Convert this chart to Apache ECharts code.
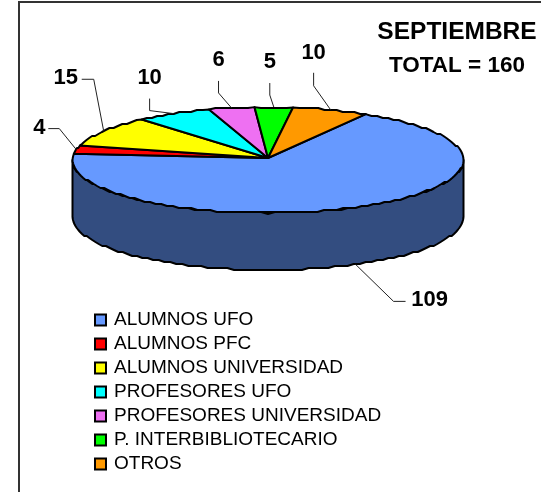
<!DOCTYPE html>
<html>
<head>
<meta charset="utf-8">
<style>
  html, body { margin: 0; padding: 0; background: #fff; }
  #chart { width: 541px; height: 492px; }
</style>
<script src="https://cdn.jsdelivr.net/npm/echarts@6/dist/echarts.min.js"></script>
</head>
<body>
<div id="chart"></div>
<script>
const categories = ['ALUMNOS UFO', 'ALUMNOS PFC', 'ALUMNOS UNIVERSIDAD', 'PROFESORES UFO', 'PROFESORES UNIVERSIDAD', 'P. INTERBIBLIOTECARIO', 'OTROS'];
const values = [109, 4, 15, 10, 6, 5, 10];
const colors = ['#6699FF', '#FF0000', '#FFFF00', '#00FFFF', '#EE70F2', '#00FF00', '#FF9900'];
const titleLines = ['SEPTIEMBRE', 'TOTAL = 160'];

// leader line per slice: elbow, end of line, label centre (offsets from the slice edge)
const leaders = [
  [[38, 37], [50, 37], [74, 36]],
  [[-17, -21], [-28, -21], [-37, -22]],
  [[-10, -52], [-22, -52], [-38, -53]],
  [[-24, -3], [-24, -15], [-24, -36]],
  [[-13, -15], [-13, -27], [-13, -48]],
  [[-4, -12], [-4, -24], [-4, -45]],
  [[-17, -24], [-17, -37], [-17, -57]],
];

const cx = 268, cy = 160, rx = 195.5, ry = 53, depth = 57;
const apex = [268, 158];
const startAngle = 30;
const total = values.reduce((a, b) => a + b, 0);
const FONT = '"Liberation Sans", Arial, sans-serif';

const rad = (d) => (d * Math.PI) / 180;
const ellipsePoint = (deg, dy) => [cx + rx * Math.sin(rad(deg)), cy + dy - ry * Math.cos(rad(deg))];

// rim y is snapped to a 2px grid, the original has a slightly stepped edge
const arc = (from, to, dy) => {
  const pts = [];
  const n = Math.max(2, Math.ceil((to - from) / 2));
  for (let i = 0; i <= n; i++) {
    const p = ellipsePoint(from + ((to - from) * i) / n, dy);
    pts.push(i === 0 || i === n ? p : [p[0], Math.round(p[1] / 2) * 2]);
  }
  return pts;
};

const sliceAngles = (index) => {
  let before = 0;
  for (let i = 0; i < index; i++) before += values[i];
  return [startAngle + (before / total) * 360, startAngle + ((before + values[index]) / total) * 360];
};

const renderSlice = (params, api) => {
  const index = params.seriesIndex;
  const [a0, a1] = sliceAngles(index);
  const children = [];
  const lineStyle = { stroke: '#000', lineWidth: 2, lineJoin: 'round' };

  // side wall only where the slice faces the viewer
  const w0 = Math.max(a0, 90), w1 = Math.min(a1, 270);
  if (w1 > w0) {
    children.push({
      type: 'polygon',
      shape: { points: arc(w0, w1, 0).concat(arc(w0, w1, depth).reverse()) },
      style: { fill: '#334D80', ...lineStyle },
    });
  }

  children.push({
    type: 'polygon',
    shape: { points: [apex].concat(arc(a0, a1, 0)) },
    style: { fill: api.visual('color'), ...lineStyle },
  });
  return { type: 'group', children };
};

const renderLeader = (params, api) => {
  const index = api.value(0);
  const [a0, a1] = sliceAngles(index);
  const mid = (a0 + a1) / 2;
  const front = mid > 90 && mid < 270;
  const anchor = ellipsePoint(mid, front ? depth : 0);
  const [elbow, end, text] = leaders[index];
  return {
    type: 'group',
    children: [
      {
        type: 'polyline',
        shape: { points: [anchor, [anchor[0] + elbow[0], anchor[1] + elbow[1]], [anchor[0] + end[0], anchor[1] + end[1]]] },
        style: { stroke: '#222', lineWidth: 1, fill: 'none' },
      },
      {
        type: 'text',
        style: {
          x: anchor[0] + text[0],
          y: anchor[1] + text[1],
          text: String(values[index]),
          font: 'bold 22px ' + FONT,
          fill: '#000',
          align: 'center',
          verticalAlign: 'middle',
        },
      },
    ],
  };
};

const chart = echarts.init(document.getElementById('chart'));

const series = categories.map((name, i) => ({
  name,
  type: 'custom',
  coordinateSystem: 'none',
  renderItem: renderSlice,
  itemStyle: { color: colors[i] },
  data: [[values[i]]],
  silent: true,
}));
series.push({
  type: 'custom',
  coordinateSystem: 'none',
  renderItem: renderLeader,
  data: values.map((v, i) => [i]),
  silent: true,
  z: 5,
});

chart.setOption({
  animation: false,
  backgroundColor: '#fff',
  tooltip: { show: false },
  title: [
    { text: titleLines[0], left: 452, top: 15, textAlign: 'center', textStyle: { fontFamily: FONT, fontSize: 24.5, fontWeight: 'bold', color: '#000' } },
    { text: titleLines[1], left: 452, top: 49, textAlign: 'center', textStyle: { fontFamily: FONT, fontSize: 22.5, fontWeight: 'bold', color: '#000' } },
  ],
  legend: {
    orient: 'vertical',
    left: 89,
    top: 304,
    icon: 'rect',
    itemWidth: 11,
    itemHeight: 11,
    itemGap: 2,
    data: categories,
    selectedMode: false,
    itemStyle: { borderColor: '#000', borderWidth: 2 },
    textStyle: { fontFamily: FONT, fontSize: 19, color: '#000', padding: [0, 0, 0, 3], lineHeight: 22, height: 22 },
  },
  graphic: [
    {
      type: 'polyline',
      silent: true,
      shape: { points: [[19, 492], [19, 2], [541, 2]] },
      style: { stroke: '#333', lineWidth: 2, fill: 'none' },
    },
  ],
  series,
});
</script>
</body>
</html>
